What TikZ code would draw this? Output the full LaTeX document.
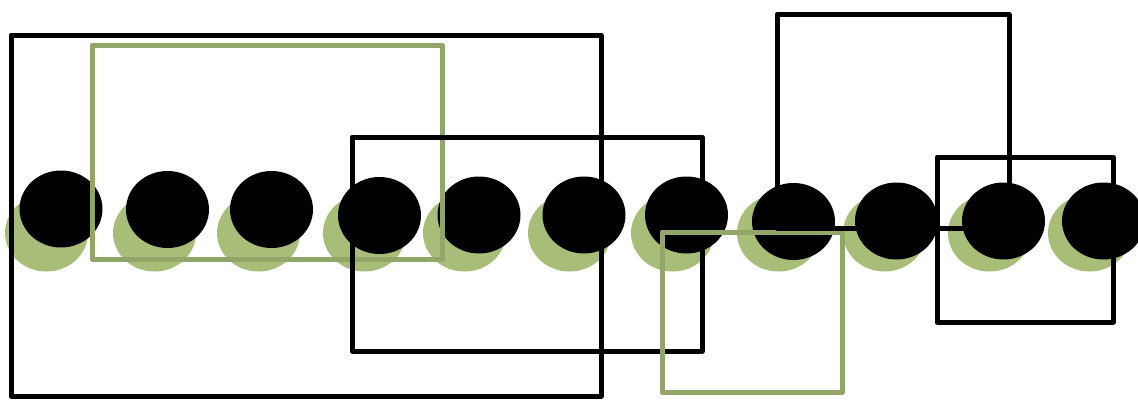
\documentclass[tikz,border=0pt]{standalone}
\usetikzlibrary{shapes.geometric}
\definecolor{shadowgreen}{RGB}{168,189,119}
\definecolor{framegreen}{RGB}{147,166,106}
\begin{document}
\begin{tikzpicture}[x=1pt,y=-1pt,
  dot/.style={ellipse,fill=black,minimum width=83pt,minimum height=77pt,inner sep=0pt,draw=none},
  dotshadow/.style={ellipse,fill=shadowgreen,minimum width=83pt,minimum height=77pt,inner sep=0pt,draw=none},
  blackframe/.style={draw=black,line width=5pt,line join=round},
  greenframe/.style={draw=framegreen,line width=5pt,line join=round}]
\useasboundingbox (0,0) rectangle (1138,399);
\begin{scope}
\clip (0,0) rectangle (1138,399);
% shadows
\foreach \i/\x in {1/46.5,2/154.5,3/258.5,4/364.5,5/464.5,6/569.5,7/672.5,8/778.5,9/884.5,10/989.5,11/1089.5}
  \node[dotshadow] (s\i) at (\x,233) {};
% black dots
\foreach \i/\x/\y in {1/61/209,2/167.5/209.5,3/271.5/209.5,4/379.5/215.5,5/479/215,6/584/215,7/686.5/215,8/793.5/221.5,9/896.5/221,10/1003.5/221,11/1103.5/221}
  \node[dot] (c\i) at (\x,\y) {};
% frames
\draw[blackframe] (11,35) rectangle (601,396);
\draw[greenframe] (92,45) rectangle (442,259);
\draw[blackframe] (352,137) rectangle (702,351);
\draw[greenframe] (662,232) rectangle (842,392);
\draw[blackframe] (777,14.5) rectangle (1009,228);
\draw[blackframe] (937,157) rectangle (1113,322);
\end{scope}
\end{tikzpicture}
\end{document}
